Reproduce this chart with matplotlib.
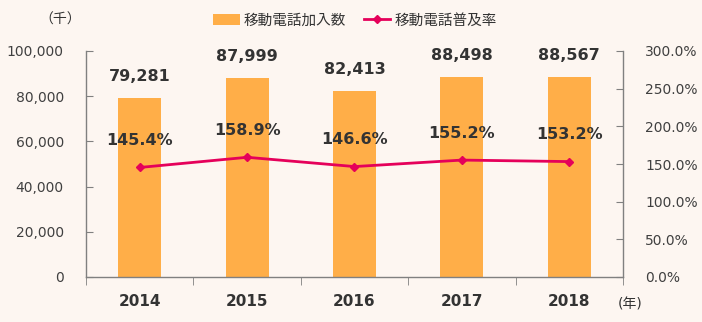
import matplotlib.pyplot as plt
import numpy as np
from matplotlib.ticker import FuncFormatter, MultipleLocator

plt.rcParams['font.family'] = ['DejaVu Sans', 'Noto Sans CJK JP']

years = ['2014', '2015', '2016', '2017', '2018']
subscribers = [79281, 87999, 82413, 88498, 88567]  # 千
penetration = [145.4, 158.9, 146.6, 155.2, 153.2]  # %

bg = '#fdf6f1'
bar_col = '#ffae48'
line_col = '#e5005a'
txt = '#333333'
ax_col = '#808080'

fig = plt.figure(figsize=(7.02, 3.22), dpi=100, facecolor=bg)
ax = fig.add_axes([86/702, 1-277/322, (623-86)/702, (277-51)/322], facecolor=bg)
ax2 = ax.twinx()

x = np.arange(len(years))
bars = ax.bar(x, subscribers, width=0.4, color=bar_col, label='移動電話加入数', zorder=2)
ln, = ax2.plot(x, penetration, color=line_col, lw=2, marker='D', ms=4.5,
               label='移動電話普及率', zorder=3)

ax.set_xlim(-0.5, len(years) - 0.5)
ax.set_ylim(0, 100000)
ax2.set_ylim(0, 300)

ax.yaxis.set_major_locator(MultipleLocator(20000))
ax.yaxis.set_major_formatter(FuncFormatter(lambda v, p: f'{int(v):,}'))
ax2.yaxis.set_major_locator(MultipleLocator(50))
ax2.yaxis.set_major_formatter(FuncFormatter(lambda v, p: f'{v:.1f}%'))

for a in (ax, ax2):
    for s in a.spines.values():
        s.set_visible(False)
ax.spines['left'].set_visible(True)
ax.spines['bottom'].set_visible(True)
ax2.spines['right'].set_visible(True)
for s in (ax.spines['left'], ax.spines['bottom'], ax2.spines['right']):
    s.set_color(ax_col)
    s.set_linewidth(1)

ax.tick_params(axis='y', direction='in', length=5, color=ax_col, labelsize=10,
               labelcolor='#404040', pad=16)
ax2.tick_params(axis='y', direction='in', length=5, color=ax_col, labelsize=10,
                labelcolor='#404040', pad=16)

# year labels centred on bars, tick marks between categories
ax.set_xticks(x)
ax.set_xticklabels(years, fontsize=11, fontweight='bold', color=txt)
ax.tick_params(axis='x', length=0, pad=12)
ax.set_xticks(np.arange(-0.5, len(years)), minor=True)
ax.tick_params(axis='x', which='minor', direction='out', length=6, color=ax_col)

for xi, v in zip(x, subscribers):
    ax.annotate(f'{v:,}', (xi, v), xytext=(0, 10), textcoords='offset points',
                ha='center', va='bottom', fontsize=11.5, fontweight='bold', color=txt)
for xi, v in zip(x, penetration):
    ax2.annotate(f'{v:.1f}%', (xi, v), xytext=(0, 14), textcoords='offset points',
                 ha='center', va='bottom', fontsize=11.5, fontweight='bold', color=txt)

fig.text(60/702, 1-20/322, '（千）', ha='center', va='center', fontsize=10, color=txt)
fig.text(630/702, 1-305/322, '(年)', ha='center', va='center', fontsize=10, color=txt)

fig.legend(handles=[bars, ln], loc='center', bbox_to_anchor=(355/702, 1-20/322),
           ncol=2, frameon=False, fontsize=10.5, handlelength=1.8, handletextpad=0.3,
           columnspacing=1.2, labelcolor=txt)

fig.savefig('out.png', dpi=100, facecolor=bg)
